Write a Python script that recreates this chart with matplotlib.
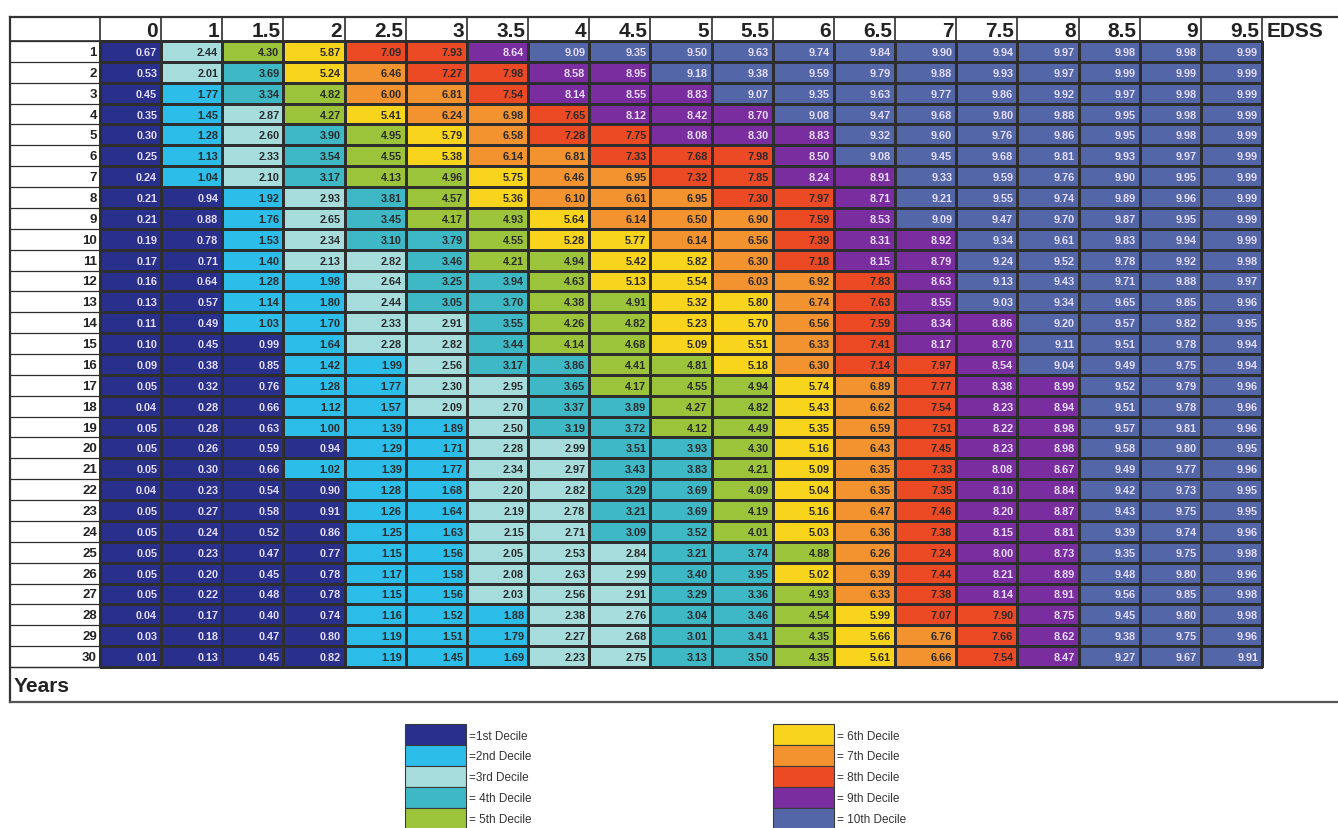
import numpy as np
import matplotlib
matplotlib.use('Agg')
import matplotlib.pyplot as plt
from matplotlib.colors import ListedColormap, BoundaryNorm

plt.rcParams['font.family'] = ['Liberation Sans', 'DejaVu Sans']

# EDSS columns and follow-up years
edss = ['0', '1', '1.5', '2', '2.5', '3', '3.5', '4', '4.5', '5', '5.5',
        '6', '6.5', '7', '7.5', '8', '8.5', '9', '9.5']
years = list(range(1, 31))

# table values, one row per year
row01 = [0.67, 2.44, 4.30, 5.87, 7.09, 7.93, 8.64, 9.09, 9.35, 9.50, 9.63, 9.74, 9.84, 9.90, 9.94, 9.97, 9.98, 9.98, 9.99]
row02 = [0.53, 2.01, 3.69, 5.24, 6.46, 7.27, 7.98, 8.58, 8.95, 9.18, 9.38, 9.59, 9.79, 9.88, 9.93, 9.97, 9.99, 9.99, 9.99]
row03 = [0.45, 1.77, 3.34, 4.82, 6.00, 6.81, 7.54, 8.14, 8.55, 8.83, 9.07, 9.35, 9.63, 9.77, 9.86, 9.92, 9.97, 9.98, 9.99]
row04 = [0.35, 1.45, 2.87, 4.27, 5.41, 6.24, 6.98, 7.65, 8.12, 8.42, 8.70, 9.08, 9.47, 9.68, 9.80, 9.88, 9.95, 9.98, 9.99]
row05 = [0.30, 1.28, 2.60, 3.90, 4.95, 5.79, 6.58, 7.28, 7.75, 8.08, 8.30, 8.83, 9.32, 9.60, 9.76, 9.86, 9.95, 9.98, 9.99]
row06 = [0.25, 1.13, 2.33, 3.54, 4.55, 5.38, 6.14, 6.81, 7.33, 7.68, 7.98, 8.50, 9.08, 9.45, 9.68, 9.81, 9.93, 9.97, 9.99]
row07 = [0.24, 1.04, 2.10, 3.17, 4.13, 4.96, 5.75, 6.46, 6.95, 7.32, 7.85, 8.24, 8.91, 9.33, 9.59, 9.76, 9.90, 9.95, 9.99]
row08 = [0.21, 0.94, 1.92, 2.93, 3.81, 4.57, 5.36, 6.10, 6.61, 6.95, 7.30, 7.97, 8.71, 9.21, 9.55, 9.74, 9.89, 9.96, 9.99]
row09 = [0.21, 0.88, 1.76, 2.65, 3.45, 4.17, 4.93, 5.64, 6.14, 6.50, 6.90, 7.59, 8.53, 9.09, 9.47, 9.70, 9.87, 9.95, 9.99]
row10 = [0.19, 0.78, 1.53, 2.34, 3.10, 3.79, 4.55, 5.28, 5.77, 6.14, 6.56, 7.39, 8.31, 8.92, 9.34, 9.61, 9.83, 9.94, 9.99]
row11 = [0.17, 0.71, 1.40, 2.13, 2.82, 3.46, 4.21, 4.94, 5.42, 5.82, 6.30, 7.18, 8.15, 8.79, 9.24, 9.52, 9.78, 9.92, 9.98]
row12 = [0.16, 0.64, 1.28, 1.98, 2.64, 3.25, 3.94, 4.63, 5.13, 5.54, 6.03, 6.92, 7.83, 8.63, 9.13, 9.43, 9.71, 9.88, 9.97]
row13 = [0.13, 0.57, 1.14, 1.80, 2.44, 3.05, 3.70, 4.38, 4.91, 5.32, 5.80, 6.74, 7.63, 8.55, 9.03, 9.34, 9.65, 9.85, 9.96]
row14 = [0.11, 0.49, 1.03, 1.70, 2.33, 2.91, 3.55, 4.26, 4.82, 5.23, 5.70, 6.56, 7.59, 8.34, 8.86, 9.20, 9.57, 9.82, 9.95]
row15 = [0.10, 0.45, 0.99, 1.64, 2.28, 2.82, 3.44, 4.14, 4.68, 5.09, 5.51, 6.33, 7.41, 8.17, 8.70, 9.11, 9.51, 9.78, 9.94]
row16 = [0.09, 0.38, 0.85, 1.42, 1.99, 2.56, 3.17, 3.86, 4.41, 4.81, 5.18, 6.30, 7.14, 7.97, 8.54, 9.04, 9.49, 9.75, 9.94]
row17 = [0.05, 0.32, 0.76, 1.28, 1.77, 2.30, 2.95, 3.65, 4.17, 4.55, 4.94, 5.74, 6.89, 7.77, 8.38, 8.99, 9.52, 9.79, 9.96]
row18 = [0.04, 0.28, 0.66, 1.12, 1.57, 2.09, 2.70, 3.37, 3.89, 4.27, 4.82, 5.43, 6.62, 7.54, 8.23, 8.94, 9.51, 9.78, 9.96]
row19 = [0.05, 0.28, 0.63, 1.00, 1.39, 1.89, 2.50, 3.19, 3.72, 4.12, 4.49, 5.35, 6.59, 7.51, 8.22, 8.98, 9.57, 9.81, 9.96]
row20 = [0.05, 0.26, 0.59, 0.94, 1.29, 1.71, 2.28, 2.99, 3.51, 3.93, 4.30, 5.16, 6.43, 7.45, 8.23, 8.98, 9.58, 9.80, 9.95]
row21 = [0.05, 0.30, 0.66, 1.02, 1.39, 1.77, 2.34, 2.97, 3.43, 3.83, 4.21, 5.09, 6.35, 7.33, 8.08, 8.67, 9.49, 9.77, 9.96]
row22 = [0.04, 0.23, 0.54, 0.90, 1.28, 1.68, 2.20, 2.82, 3.29, 3.69, 4.09, 5.04, 6.35, 7.35, 8.10, 8.84, 9.42, 9.73, 9.95]
row23 = [0.05, 0.27, 0.58, 0.91, 1.26, 1.64, 2.19, 2.78, 3.21, 3.69, 4.19, 5.16, 6.47, 7.46, 8.20, 8.87, 9.43, 9.75, 9.95]
row24 = [0.05, 0.24, 0.52, 0.86, 1.25, 1.63, 2.15, 2.71, 3.09, 3.52, 4.01, 5.03, 6.36, 7.38, 8.15, 8.81, 9.39, 9.74, 9.96]
row25 = [0.05, 0.23, 0.47, 0.77, 1.15, 1.56, 2.05, 2.53, 2.84, 3.21, 3.74, 4.88, 6.26, 7.24, 8.00, 8.73, 9.35, 9.75, 9.98]
row26 = [0.05, 0.20, 0.45, 0.78, 1.17, 1.58, 2.08, 2.63, 2.99, 3.40, 3.95, 5.02, 6.39, 7.44, 8.21, 8.89, 9.48, 9.80, 9.96]
row27 = [0.05, 0.22, 0.48, 0.78, 1.15, 1.56, 2.03, 2.56, 2.91, 3.29, 3.36, 4.93, 6.33, 7.38, 8.14, 8.91, 9.56, 9.85, 9.98]
row28 = [0.04, 0.17, 0.40, 0.74, 1.16, 1.52, 1.88, 2.38, 2.76, 3.04, 3.46, 4.54, 5.99, 7.07, 7.90, 8.75, 9.45, 9.80, 9.98]
row29 = [0.03, 0.18, 0.47, 0.80, 1.19, 1.51, 1.79, 2.27, 2.68, 3.01, 3.41, 4.35, 5.66, 6.76, 7.66, 8.62, 9.38, 9.75, 9.96]
row30 = [0.01, 0.13, 0.45, 0.82, 1.19, 1.45, 1.69, 2.23, 2.75, 3.13, 3.50, 4.35, 5.61, 6.66, 7.54, 8.47, 9.27, 9.67, 9.91]

decile_labels_left = ['=1st Decile', '=2nd Decile', '=3rd Decile', '= 4th Decile', '= 5th Decile']
decile_labels_right = ['= 6th Decile', '= 7th Decile', '= 8th Decile', '= 9th Decile', '= 10th Decile']
decile_colors = ['#28308c', '#2cbde8', '#a6dcdc', '#3fb8c6', '#9cc43a',
                 '#f8d41c', '#f39330', '#ec4a24', '#7a2d9e', '#5366a8']

vals = np.array([row01, row02, row03, row04, row05, row06, row07, row08, row09, row10,
                 row11, row12, row13, row14, row15, row16, row17, row18, row19, row20,
                 row21, row22, row23, row24, row25, row26, row27, row28, row29, row30])

cmap = ListedColormap(decile_colors)
norm = BoundaryNorm(np.arange(0, 11), cmap.N)

fig = plt.figure(figsize=(13.38, 8.29), dpi=100)
ax = fig.add_axes([0, 0, 1, 1])
ax.set_xlim(0, 1338)
ax.set_ylim(829, 0)
ax.axis('off')

# layout (pixels)
left, lab_right, right = 10, 100, 1262
top, head_bot, body_bot, bottom = 18, 42, 668, 703
xe = np.linspace(lab_right, right, len(edss) + 1)
ye = np.linspace(head_bot, body_bot, len(years) + 1)
grid = '#2e2e2e'

ax.pcolormesh(xe, ye, vals, cmap=cmap, norm=norm, edgecolors=grid, linewidth=0.8)

light = {0, 8, 9}
for i, yr in enumerate(years):
    yc = (ye[i] + ye[i + 1]) / 2
    for j in range(len(edss)):
        v = vals[i, j]
        k = int(norm(v))
        ax.text(xe[j + 1] - 4, yc + 0.5, f'{v:.2f}', ha='right', va='center',
                fontsize=7.8, fontweight='bold',
                color='#e6defa' if k in light else '#2a2a2a')
    ax.text(lab_right - 3, yc + 0.5, str(yr), ha='right', va='center',
            fontsize=9.5, fontweight='bold', color='#222222')
    ax.plot([left, lab_right], [ye[i + 1], ye[i + 1]], color=grid, lw=0.9)

# header row
for j, lab in enumerate(edss):
    ax.text(xe[j + 1] - 3, (top + head_bot) / 2 + 1, lab, ha='right', va='center',
            fontsize=15, fontweight='bold', color='#222222')
    ax.plot([xe[j], xe[j]], [top, head_bot], color=grid, lw=1.2)
ax.plot([right, right], [top, body_bot], color=grid, lw=1.2)
ax.text(right + 5, (top + head_bot) / 2 + 1, 'EDSS', ha='left', va='center',
        fontsize=15, fontweight='bold', color='#222222')
ax.plot([left, right], [head_bot, head_bot], color=grid, lw=1.2)
ax.plot([left, lab_right], [ye[0], ye[0]], color=grid, lw=0.9)

# outer frame
ax.plot([left, 1338], [top, top], color='#333333', lw=1.6)
ax.plot([left, left], [top, bottom], color='#333333', lw=1.6)
ax.plot([left, 1338], [bottom, bottom], color='#555555', lw=1.6)
ax.plot([left, right], [body_bot, body_bot], color=grid, lw=0.9)
ax.text(left + 4, (body_bot + bottom) / 2 + 1, 'Years', ha='left', va='center',
        fontsize=15, fontweight='bold', color='#222222')

# legend
sw_h = 21
for x0, labels, offs in [(405, decile_labels_left, 1), (773, decile_labels_right, 6)]:
    for n, lab in enumerate(labels):
        y0 = 725 + n * sw_h
        ax.bar(x0, sw_h, width=61, bottom=y0, align='edge',
               color=cmap(norm(offs + n - 0.5)), edgecolor='#3a3a3a', linewidth=0.8)
        ax.text(x0 + 64, y0 + sw_h / 2 + 1, lab, ha='left', va='center',
                fontsize=8.5, color='#333333')

fig.savefig('out.png', dpi=100)
